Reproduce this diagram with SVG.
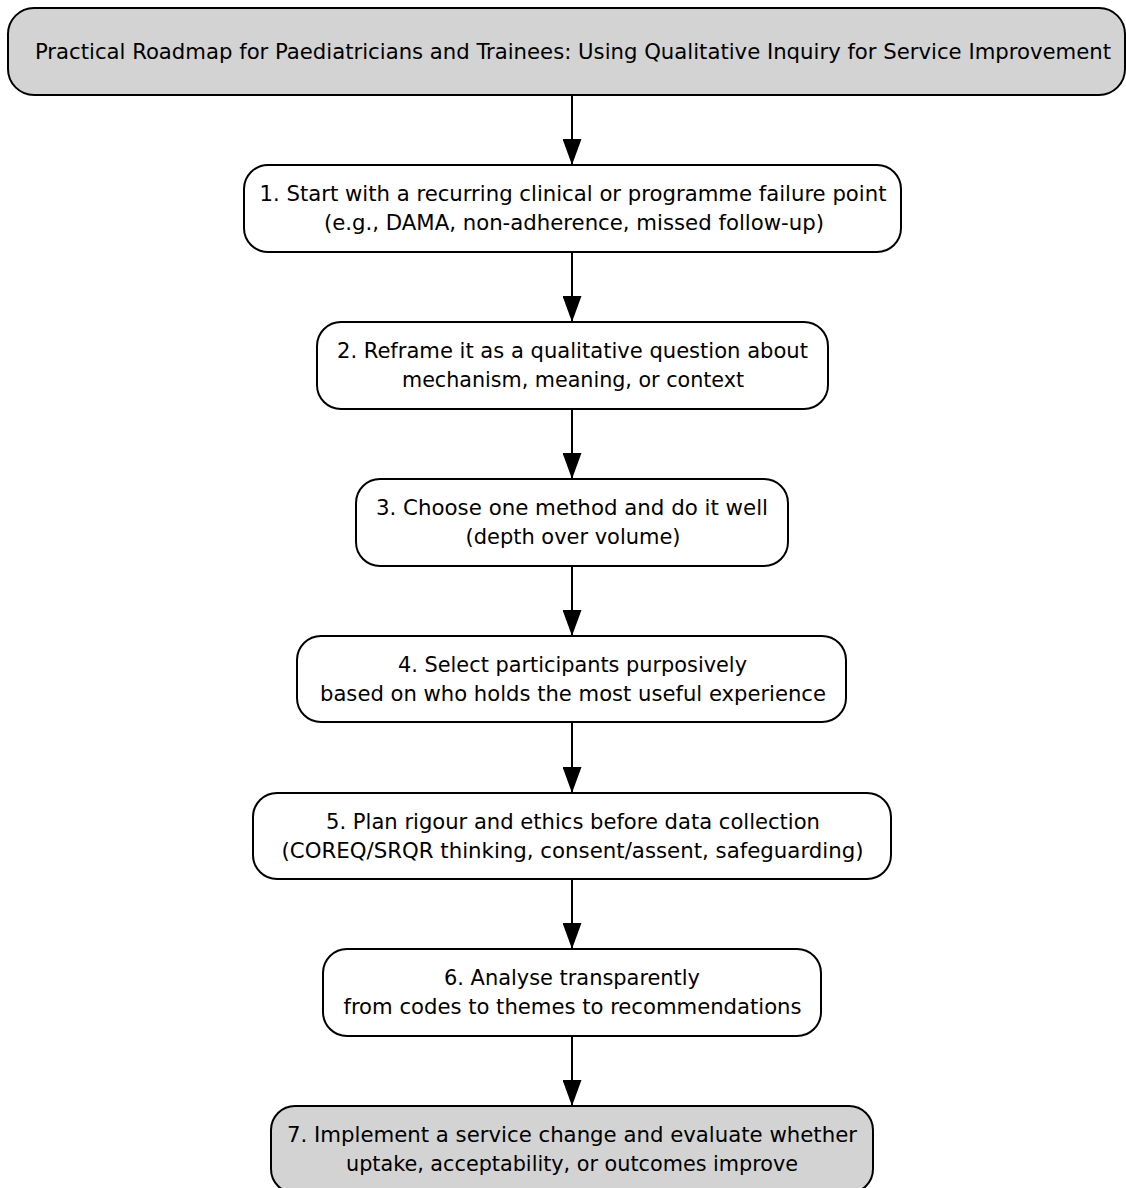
<svg xmlns="http://www.w3.org/2000/svg" width="1126" height="1188" viewBox="0 0 1126 1188">
<style>
.box{fill:#ffffff;stroke:#000000;stroke-width:2}
.gray{fill:#d3d3d3}
.t{font-family:"DejaVu Sans Condensed","DejaVu Sans","Liberation Sans",sans-serif;font-stretch:condensed;font-size:22px;fill:#000000;text-anchor:middle}
.c{stroke:#000000;stroke-width:2;fill:none}
</style>
<defs>
<marker id="ah" markerUnits="userSpaceOnUse" markerWidth="26" markerHeight="19" refX="26" refY="9.5" orient="auto">
<path d="M0,0 L26,9.5 L0,19 z" fill="#000000"/>
</marker>
</defs>
<rect width="1126" height="1188" fill="#ffffff"/>
<g id="connectors">
<line class="c" x1="572" y1="95" x2="572" y2="165" marker-end="url(#ah)"/>
<line class="c" x1="572" y1="252" x2="572" y2="322" marker-end="url(#ah)"/>
<line class="c" x1="572" y1="409" x2="572" y2="479" marker-end="url(#ah)"/>
<line class="c" x1="572" y1="566" x2="572" y2="636" marker-end="url(#ah)"/>
<line class="c" x1="572" y1="722" x2="572" y2="793" marker-end="url(#ah)"/>
<line class="c" x1="572" y1="879" x2="572" y2="949" marker-end="url(#ah)"/>
<line class="c" x1="572" y1="1036" x2="572" y2="1106" marker-end="url(#ah)"/>
</g>
<g id="title">
<rect class="box gray" x="8" y="8" width="1117" height="87" rx="26" ry="26"/>
<text class="t" x="573" y="59" textLength="1076" lengthAdjust="spacingAndGlyphs">Practical Roadmap for Paediatricians and Trainees: Using Qualitative Inquiry for Service Improvement</text>
</g>
<g id="step1">
<rect class="box" x="244" y="165" width="657" height="87" rx="24" ry="24"/>
<text class="t" x="573" y="201" textLength="627" lengthAdjust="spacingAndGlyphs">1. Start with a recurring clinical or programme failure point</text>
<text class="t" x="574" y="230" textLength="500" lengthAdjust="spacingAndGlyphs">(e.g., DAMA, non-adherence, missed follow-up)</text>
</g>
<g id="step2">
<rect class="box" x="317" y="322" width="511" height="87" rx="24" ry="24"/>
<text class="t" x="572.5" y="358" textLength="471" lengthAdjust="spacingAndGlyphs">2. Reframe it as a qualitative question about</text>
<text class="t" x="573" y="387" textLength="342" lengthAdjust="spacingAndGlyphs">mechanism, meaning, or context</text>
</g>
<g id="step3">
<rect class="box" x="356" y="479" width="432" height="87" rx="24" ry="24"/>
<text class="t" x="572" y="515" textLength="392" lengthAdjust="spacingAndGlyphs">3. Choose one method and do it well</text>
<text class="t" x="573" y="544" textLength="215" lengthAdjust="spacingAndGlyphs">(depth over volume)</text>
</g>
<g id="step4">
<rect class="box" x="297" y="636" width="549" height="86" rx="24" ry="24"/>
<text class="t" x="572.5" y="672" textLength="349" lengthAdjust="spacingAndGlyphs">4. Select participants purposively</text>
<text class="t" x="573" y="701" textLength="506" lengthAdjust="spacingAndGlyphs">based on who holds the most useful experience</text>
</g>
<g id="step5">
<rect class="box" x="253" y="793" width="638" height="86" rx="24" ry="24"/>
<text class="t" x="573" y="829" textLength="494" lengthAdjust="spacingAndGlyphs">5. Plan rigour and ethics before data collection</text>
<text class="t" x="572.5" y="858" textLength="582" lengthAdjust="spacingAndGlyphs">(COREQ/SRQR thinking, consent/assent, safeguarding)</text>
</g>
<g id="step6">
<rect class="box" x="323" y="949" width="498" height="87" rx="24" ry="24"/>
<text class="t" x="572" y="985" textLength="256" lengthAdjust="spacingAndGlyphs">6. Analyse transparently</text>
<text class="t" x="572.5" y="1014" textLength="458" lengthAdjust="spacingAndGlyphs">from codes to themes to recommendations</text>
</g>
<g id="step7">
<rect class="box gray" x="271" y="1106" width="602" height="87" rx="24" ry="24"/>
<text class="t" x="572" y="1142" textLength="570" lengthAdjust="spacingAndGlyphs">7. Implement a service change and evaluate whether</text>
<text class="t" x="572" y="1171" textLength="452" lengthAdjust="spacingAndGlyphs">uptake, acceptability, or outcomes improve</text>
</g>
</svg>
